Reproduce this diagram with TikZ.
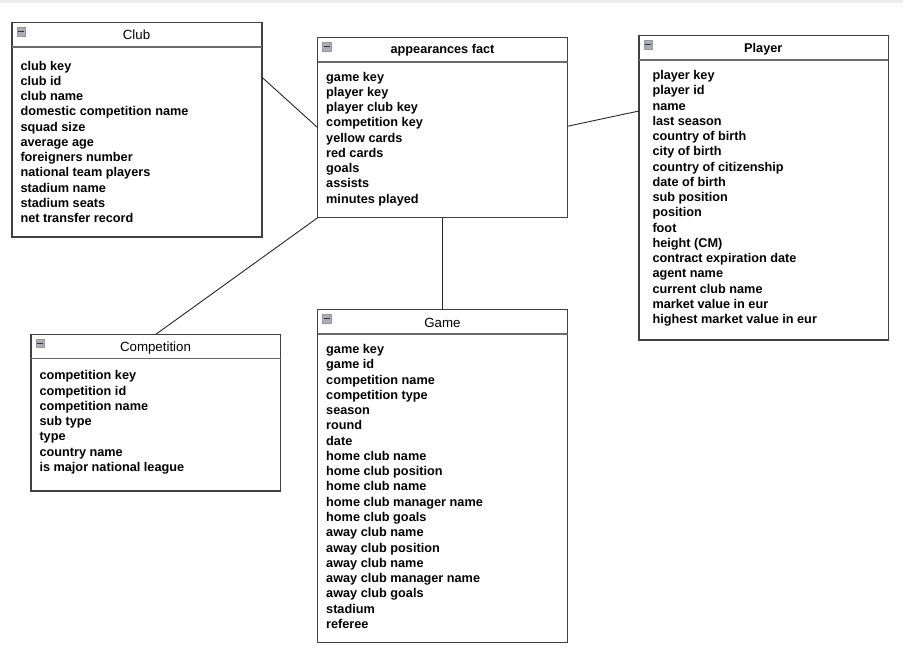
\documentclass[tikz,border=0pt]{standalone}
\usepackage{fontspec}
\setmainfont{Liberation Sans}
\usetikzlibrary{calc}
\definecolor{iconfill}{RGB}{168,172,182}
\begin{document}
\begin{tikzpicture}[x=1pt,y=-1pt,
  box/.style={draw=black!75, line width=1.3pt, rectangle, inner sep=0pt, outer sep=0pt, fill=white},
  attr/.style={anchor=base west, inner sep=0pt, text=black, font=\fontsize{12.7}{15}\selectfont\bfseries},
  ttl/.style={anchor=base, inner sep=0pt, text=black, font=\fontsize{13.3}{15}\selectfont},
  ttlb/.style={anchor=base, inner sep=0pt, text=black, font=\fontsize{12.7}{15}\selectfont\bfseries},
  hdr/.style={draw=black!58, line width=1.3pt},
  conn/.style={draw=black!85, line width=0.9pt},
  icon/.style={draw=black!40, fill=iconfill, minimum size=8.4pt, inner sep=0pt, anchor=north west, line width=0.6pt}
]
\useasboundingbox (0,0) rectangle (903,662);
\fill[black!7] (0,0) rectangle (903,3);

% entity boxes
\node[box, minimum width=250pt, minimum height=214.3pt] (club) at (137,129.85) {};
\node[box, minimum width=250pt, minimum height=180pt] (app) at (442.7,127.7) {};
\node[box, minimum width=249.3pt, minimum height=304.3pt] (player) at (763.65,187.85) {};
\node[box, minimum width=249.7pt, minimum height=156.7pt] (comp) at (155.85,412.65) {};
\node[box, minimum width=250pt, minimum height=333pt] (game) at (442.7,476.2) {};

% header separators and collapse icons
\foreach \b in {club,app,player,comp,game}{
  \draw[hdr] ([yshift=-24.3pt]\b.north west) -- ([yshift=-24.3pt]\b.north east);
  \node[icon] (icon-\b) at ([xshift=4.5pt,yshift=-4.6pt]\b.north west) {};
  \draw[black!80, line width=1.3pt] ([xshift=1.6pt]icon-\b.west) -- ([xshift=-1.6pt]icon-\b.east);
}

% titles
\node[ttl] (t-club) at (136.5,39.3) {Club};
\node[ttlb] (t-app) at (442.5,53.3) {appearances fact};
\node[ttlb] (t-player) at (763.3,52.3) {Player};
\node[ttl] (t-comp) at (155.5,351.7) {Competition};
\node[ttl] (t-game) at (442.5,327.3) {Game};

% attributes
\foreach \t [count=\i from 0] in {club key,club id,club name,domestic competition name,squad size,average age,foreigners number,national team players,stadium name,stadium seats,net transfer record}
  \node[attr] (club-\i) at (20.3,70+\i*15.27) {\t};

\foreach \t [count=\i from 0] in {game key,player key,player club key,competition key,yellow cards,red cards,goals,assists,minutes played}
  \node[attr] (app-\i) at (326,81+\i*15.27) {\t};

\foreach \t [count=\i from 0] in {player key,player id,name,last season,country of birth,city of birth,country of citizenship,date of birth,sub position,position,foot,height (CM),contract expiration date,agent name,current club name,market value in eur,highest market value in eur}
  \node[attr] (player-\i) at (652.3,79.5+\i*15.25) {\t};

\foreach \t [count=\i from 0] in {competition key,competition id,competition name,sub type,type,country name,is major national league}
  \node[attr] (comp-\i) at (39.3,379.8+\i*15.27) {\t};

\foreach \t [count=\i from 0] in {game key,game id,competition name,competition type,season,round,date,home club name,home club position,home club name,home club manager name,home club goals,away club name,away club position,away club name,away club manager name,away club goals,stadium,referee}
  \node[attr] (game-\i) at (326,353.5+\i*15.27) {\t};

% connectors
\draw[conn] ([yshift=-54.6pt]club.north east) -- (app.west);
\draw[conn] ([yshift=1.5pt]app.east) -- ([yshift=-75.3pt]player.north west);
\draw[conn] (app.south west) -- (comp.north);
\draw[conn] (app.south) -- (game.north);
\end{tikzpicture}
\end{document}
